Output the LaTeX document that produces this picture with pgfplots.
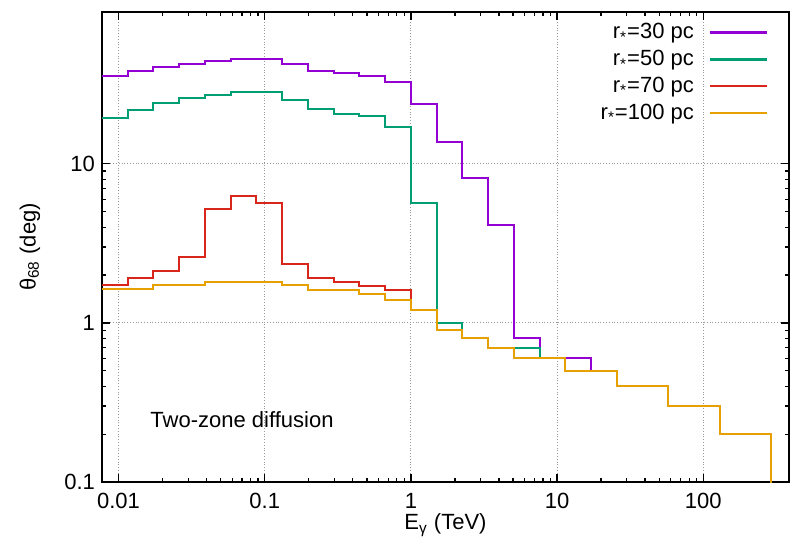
\documentclass[border=0pt]{standalone}
\usepackage{fontspec}
\setmainfont{Liberation Sans}
\usepackage{pgfplots}
\usepackage{pgfplotstable}
\pgfplotsset{compat=1.18}
\definecolor{c30}{HTML}{9400D3}
\definecolor{c50}{HTML}{009E73}
\definecolor{c70}{HTML}{D8261A}
\definecolor{c100}{HTML}{E6A000}

% bin lower edges (ratio 1.5) and theta_68 values; last row closes the final bin
\pgfplotstableread{
E th30 th50 th70 th100
0.0077073 35.9 19.5 1.72 1.64
0.011561 38.3 21.9 1.91 1.64
0.017342 40.6 24.1 2.11 1.72
0.026012 42.6 25.9 2.61 1.72
0.039018 44.4 27.2 5.21 1.80
0.058528 45.7 28.3 6.32 1.80
0.087791 45.6 28.2 5.66 1.82
0.131687 42.6 25.3 2.33 1.72
0.197531 38.3 22.2 1.91 1.61
0.296296 37.2 20.6 1.82 1.61
0.444444 35.9 19.9 1.70 1.52
0.666667 32.6 17.0 1.62 1.40
1.0 23.6 5.7 1.21 1.21
1.5 13.7 1.0 0.9 0.9
2.25 8.17 0.8 0.8 0.8
3.375 4.13 0.7 0.7 0.7
5.0625 0.8 0.7 0.6 0.6
7.59375 0.6 0.6 0.6 0.6
11.3906 0.6 0.5 0.5 0.5
17.0859 0.5 0.5 0.5 0.5
25.6289 0.4 0.4 0.4 0.4
38.4434 0.4 0.4 0.4 0.4
57.665 0.3 0.3 0.3 0.3
86.498 0.3 0.3 0.3 0.3
129.746 0.2 0.2 0.2 0.2
194.620 0.2 0.2 0.2 0.2
291.929 0.2 0.2 0.2 0.2
291.929 0.2 0.2 0.2 0.05
}\datatable

\begin{document}
\begin{tikzpicture}[font=\fontsize{11}{13}\selectfont]
\begin{axis}[
  xmode=log, ymode=log,
  scale only axis, width=343.5pt, height=235pt,
  xmin=0.0077073, xmax=386, ymin=0.1, ymax=90,
  xtick={0.01,0.1,1,10,100}, xticklabels={0.01,0.1,1,10,100},
  ytick={0.1,1,10}, yticklabels={0.1,1,10},
  xticklabel style={yshift=-2pt},
  grid=major,
  major grid style={densely dotted, gray!80, line width=0.5pt},
  axis line style={line width=1.2pt},
  tick style={black, line width=0.6pt},
  major tick length=4pt, minor tick length=2pt,
  tick align=inside,
  xlabel={E\textsubscript{γ} (TeV)},
  ylabel={θ\textsubscript{68} (deg)},
  xlabel style={at={(axis description cs:0.5,-0.092)}, anchor=center},
  ylabel style={at={(axis description cs:-0.105,0.5)}, anchor=center},
  legend plot pos=right,
  legend cell align=right,
  legend image code/.code={\path (0cm,0cm); \draw[#1] (0.2cm,0cm) -- (1.2cm,0cm);},
  legend style={at={(rel axis cs:0.979,0.991)}, anchor=north east,
    draw=none, fill=none, row sep=1.2pt,
    nodes={inner sep=1.5pt}},
]
\addlegendimage{color=c30, line width=1.5pt}
\addlegendentry{r\textsubscript{*}=30 pc}
\addlegendimage{color=c50, line width=1.5pt}
\addlegendentry{r\textsubscript{*}=50 pc}
\addlegendimage{color=c70, line width=0.9pt}
\addlegendentry{r\textsubscript{*}=70 pc}
\addlegendimage{color=c100, line width=0.9pt}
\addlegendentry{r\textsubscript{*}=100 pc}

\addplot[color=c30, line width=1pt, const plot mark left, forget plot] table[x=E, y=th30] {\datatable};
\addplot[color=c50, line width=1pt, const plot mark left, forget plot] table[x=E, y=th50] {\datatable};
\addplot[color=c70, line width=1pt, const plot mark left, forget plot] table[x=E, y=th70] {\datatable};
\addplot[color=c100, line width=1pt, const plot mark left, forget plot] table[x=E, y=th100] {\datatable};

\node[anchor=west] at (axis cs:0.0148,0.245) {Two-zone diffusion};
\end{axis}
\pgfresetboundingbox
\path ([xshift=-51pt,yshift=-31.5pt]current axis.south west) rectangle ([xshift=0.5pt,yshift=6pt]current axis.north east);
\end{tikzpicture}
\end{document}
